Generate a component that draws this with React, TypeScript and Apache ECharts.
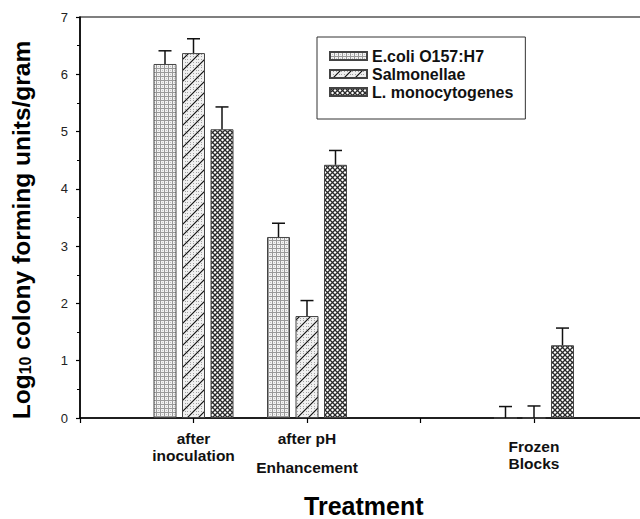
import React, { useEffect, useRef } from "react";
import * as echarts from "echarts";

// ---- data ----
const categories: string[] = ["", "after\ninoculation", "after pH\n\nEnhancement", "", "Frozen\nBlocks", ""];
const seriesNames: string[] = ["E.coli O157:H7", "Salmonellae", "L. monocytogenes"];
const ecoli: (number | null)[] = [null, 6.18, 3.16, null, 0, null];
const ecoliErr: (number | null)[] = [null, 0.23, 0.24, null, 0.2, null];
const salmonellae: (number | null)[] = [null, 6.37, 1.78, null, 0, null];
const salmonellaeErr: (number | null)[] = [null, 0.25, 0.27, null, 0.21, null];
const listeria: (number | null)[] = [null, 5.04, 4.42, null, 1.27, null];
const listeriaErr: (number | null)[] = [null, 0.39, 0.25, null, 0.3, null];
const yTicks: number[] = [0, 1, 2, 3, 4, 5, 6, 7];

const FONT = "'Liberation Sans', Arial, Helvetica, sans-serif";

function makePattern(w: number, h: number, draw: (ctx: CanvasRenderingContext2D) => void) {
  const c = document.createElement("canvas");
  c.width = w;
  c.height = h;
  const ctx = c.getContext("2d") as CanvasRenderingContext2D;
  draw(ctx);
  return { image: c.toDataURL(), imageWidth: w, imageHeight: h, repeat: "repeat" } as any;
}

function patterns() {
  const ecoliP = makePattern(4, 4, (ctx) => {
    ctx.fillStyle = "#f2f2f2";
    ctx.fillRect(0, 0, 4, 4);
    ctx.fillStyle = "#999";
    ctx.fillRect(0, 0, 4, 1);
    ctx.fillRect(0, 0, 1, 4);
    ctx.fillStyle = "#c4c4c4";
    ctx.fillRect(2, 2, 1, 1);
  });
  const salP = makePattern(11, 11, (ctx) => {
    ctx.fillStyle = "#f0f0f0";
    ctx.fillRect(0, 0, 11, 11);
    ctx.fillStyle = "#a0a0a0";
    for (let i = 0; i < 11; i += 3) {
      for (let j = 1; j < 11; j += 3) ctx.fillRect(i, j, 1, 1);
    }
    ctx.strokeStyle = "#111";
    ctx.lineWidth = 1.2;
    ctx.beginPath();
    ctx.moveTo(-1, 12);
    ctx.lineTo(12, -1);
    ctx.moveTo(-1, 1);
    ctx.lineTo(1, -1);
    ctx.moveTo(10, 12);
    ctx.lineTo(12, 10);
    ctx.stroke();
  });
  const lisP = makePattern(5, 5, (ctx) => {
    ctx.fillStyle = "#ffffff";
    ctx.fillRect(0, 0, 5, 5);
    ctx.strokeStyle = "#2a2a2a";
    ctx.lineWidth = 1.3;
    ctx.beginPath();
    ctx.moveTo(-1, -1);
    ctx.lineTo(6, 6);
    ctx.moveTo(-1, 6);
    ctx.lineTo(6, -1);
    ctx.stroke();
  });
  return [ecoliP, salP, lisP];
}

const BAR_W = 23;
const BAR_STEP = 28.5;

export default function App() {
  const ref = useRef<HTMLDivElement>(null);
  useEffect(() => {
    document.body.style.margin = "0";
    document.body.style.overflow = "hidden";
    document.documentElement.style.overflow = "hidden";
    if (!ref.current) return;
    const chart = echarts.init(ref.current, null, { renderer: "svg" });
    const pats = patterns();
    const values = [ecoli, salmonellae, listeria];
    const errs = [ecoliErr, salmonellaeErr, listeriaErr];

    const barSeries = seriesNames.map((name, s) => ({
      name,
      type: "bar",
      data: values[s].map((v) => (v === null ? "-" : v)),
      barWidth: BAR_W,
      barGap: ((BAR_STEP - BAR_W) / BAR_W) * 100 + "%",
      itemStyle: { color: pats[s], borderColor: "#444", borderWidth: 1 },
      z: 2,
    }));

    const errSeries = seriesNames.map((name, s) => ({
      name: name + " error",
      type: "custom",
      z: 3,
      encode: { x: 0, y: 1 },
      data: values[s]
        .map((v, i) => (v === null ? null : [i, v, errs[s][i] as number]))
        .filter((d) => d !== null),
      renderItem: (params: any, api: any) => {
        const idx = api.value(0);
        const v = api.value(1);
        const e = api.value(2);
        const base = api.coord([idx, v]);
        const top = api.coord([idx, v + e]);
        const x = base[0] + (s - 1) * BAR_STEP;
        const st = { stroke: "#111", lineWidth: 1.5 };
        return {
          type: "group",
          children: [
            { type: "line", shape: { x1: x, y1: base[1], x2: x, y2: top[1] }, style: st },
            { type: "line", shape: { x1: x - 6.5, y1: top[1], x2: x + 6.5, y2: top[1] }, style: st },
          ],
        };
      },
    }));

    const option: any = {
      animation: false,
      backgroundColor: "#ffffff",
      textStyle: { fontFamily: FONT },
      grid: {
        left: 80,
        top: 17,
        width: 567.5,
        height: 401,
        outerBoundsMode: "none",
        containLabel: false,
        show: true,
        borderColor: "#000",
        borderWidth: 1.2,
        backgroundColor: "transparent",
      },
      legend: {
        data: seriesNames,
        orient: "vertical",
        left: 317,
        top: 37,
        padding: [11, 12, 19, 12],
        itemWidth: 37,
        itemHeight: 8,
        itemGap: 2,
        icon: "rect",
        borderColor: "#333",
        borderWidth: 1,
        backgroundColor: "#fff",
        textStyle: { fontFamily: FONT, fontSize: 16, fontWeight: "bold", color: "#111", lineHeight: 16 },
      },
      xAxis: {
        type: "category",
        data: categories,
        boundaryGap: false,
        axisLine: { lineStyle: { color: "#000", width: 1.5 } },
        axisTick: { show: true, length: 5, inside: false, lineStyle: { color: "#000", width: 1.2 } },
        axisLabel: {
          interval: 0,
          margin: 12,
          color: "#111",
          formatter: (val: string) => {
            if (!val) return "";
            if (val === "after pH\n\nEnhancement") return "{b|after pH}\n{gap| }\n{b|Enhancement}";
            if (val === "Frozen\nBlocks") return "{sp| }\n{b|Frozen}\n{b|Blocks}";
            return val
              .split("\n")
              .map((t) => "{b|" + t + "}")
              .join("\n");
          },
          rich: {
            b: { fontFamily: FONT, fontSize: 15.5, fontWeight: "bold", lineHeight: 17, color: "#111" },
            gap: { fontSize: 1, lineHeight: 12 },
            sp: { fontSize: 1, lineHeight: 8 },
          },
        },
        name: "Treatment",
        nameLocation: "middle",
        nameGap: 76,
        nameTextStyle: { fontFamily: FONT, fontSize: 25, lineHeight: 23, fontWeight: "bold", color: "#000" },
        splitLine: { show: false },
      },
      yAxis: {
        type: "value",
        min: yTicks[0],
        max: yTicks[yTicks.length - 1],
        interval: 1,
        axisLine: { show: true, lineStyle: { color: "#000", width: 1.5 } },
        axisTick: { show: true, length: 4, inside: false, lineStyle: { color: "#000", width: 1.2 } },
        minorTick: { show: true, splitNumber: 2, length: 3, lineStyle: { color: "#000", width: 1 } },
        axisLabel: { margin: 12, fontFamily: FONT, fontSize: 13, color: "#222" },
        splitLine: { show: false },
        name: "Log{sub|10} colony forming units/gram",
        nameLocation: "middle",
        nameGap: 47,
        nameTextStyle: {
          fontFamily: FONT,
          fontSize: 24.5,
          fontWeight: "bold",
          color: "#000",
          lineHeight: 24,
          padding: [0, 25, 0, 0],
          rich: {
            sub: { fontFamily: FONT, fontSize: 16, fontWeight: "bold", lineHeight: 10, verticalAlign: "bottom", color: "#000" },
          },
        },
      },
      series: [...barSeries, ...errSeries],
    };
    chart.setOption(option);
    return () => chart.dispose();
  }, []);
  return (
    <div
      ref={ref}
      style={{ position: "absolute", left: 0, top: 0, width: 640, height: 519, overflow: "hidden" }}
    />
  );
}
